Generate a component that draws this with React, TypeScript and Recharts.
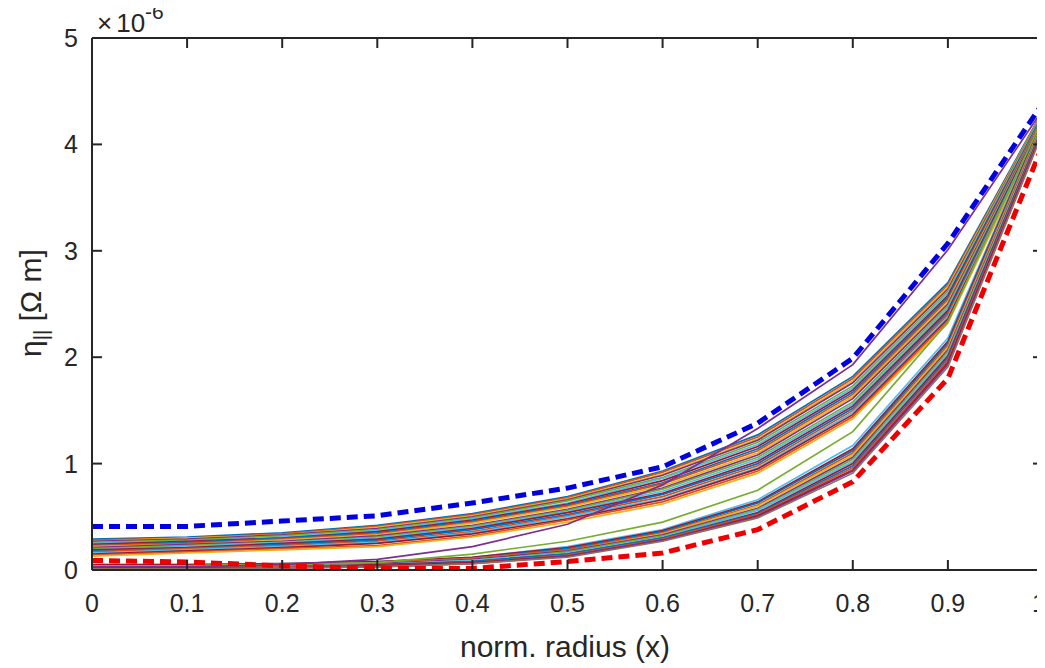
import React from "react";
import { LineChart, Line, XAxis, YAxis } from "recharts";

// normalized radius
const xs = [0, 0.1, 0.2, 0.3, 0.4, 0.5, 0.6, 0.7, 0.8, 0.9, 1.0];
const xTicks = [0, 0.1, 0.2, 0.3, 0.4, 0.5, 0.6, 0.7, 0.8, 0.9, 1];
const yTicks = [0, 1, 2, 3, 4, 5];

// values in units of 1e-6 Ohm m
// upper bundle of profiles
const upper = [
  [0.29, 0.31, 0.35, 0.42, 0.53, 0.69, 0.93, 1.27, 1.82, 2.70, 4.32],
  [0.28, 0.30, 0.34, 0.41, 0.52, 0.68, 0.92, 1.25, 1.80, 2.68, 4.31],
  [0.27, 0.30, 0.33, 0.40, 0.51, 0.67, 0.90, 1.23, 1.78, 2.66, 4.31],
  [0.27, 0.29, 0.33, 0.39, 0.50, 0.66, 0.89, 1.22, 1.76, 2.64, 4.30],
  [0.26, 0.28, 0.32, 0.38, 0.49, 0.65, 0.87, 1.20, 1.73, 2.62, 4.30],
  [0.25, 0.27, 0.31, 0.37, 0.48, 0.63, 0.86, 1.18, 1.71, 2.60, 4.29],
  [0.24, 0.27, 0.30, 0.36, 0.47, 0.62, 0.84, 1.16, 1.69, 2.58, 4.28],
  [0.23, 0.26, 0.30, 0.35, 0.46, 0.61, 0.82, 1.14, 1.67, 2.56, 4.28],
  [0.23, 0.25, 0.29, 0.34, 0.45, 0.60, 0.81, 1.12, 1.65, 2.54, 4.27],
  [0.22, 0.24, 0.28, 0.33, 0.44, 0.59, 0.79, 1.10, 1.63, 2.52, 4.26],
  [0.21, 0.24, 0.27, 0.32, 0.42, 0.57, 0.77, 1.08, 1.61, 2.50, 4.26],
  [0.20, 0.23, 0.26, 0.31, 0.41, 0.56, 0.76, 1.06, 1.58, 2.48, 4.25],
  [0.19, 0.22, 0.26, 0.30, 0.40, 0.55, 0.74, 1.04, 1.56, 2.46, 4.24],
  [0.19, 0.21, 0.25, 0.29, 0.39, 0.54, 0.72, 1.02, 1.54, 2.44, 4.24],
  [0.18, 0.20, 0.24, 0.28, 0.38, 0.52, 0.71, 1.00, 1.52, 2.42, 4.23],
  [0.17, 0.20, 0.23, 0.27, 0.36, 0.51, 0.69, 0.98, 1.50, 2.40, 4.22],
  [0.16, 0.19, 0.22, 0.26, 0.35, 0.50, 0.67, 0.96, 1.48, 2.38, 4.22],
  [0.15, 0.18, 0.21, 0.25, 0.34, 0.48, 0.66, 0.95, 1.46, 2.36, 4.21],
  [0.14, 0.17, 0.20, 0.23, 0.32, 0.47, 0.64, 0.93, 1.44, 2.34, 4.20],
  [0.13, 0.16, 0.19, 0.22, 0.31, 0.45, 0.62, 0.91, 1.42, 2.32, 4.20],
];

// lower bundle of profiles
const lower = [
  [0.05, 0.05, 0.06, 0.08, 0.12, 0.22, 0.38, 0.66, 1.17, 2.18, 4.25],
  [0.05, 0.05, 0.06, 0.08, 0.12, 0.21, 0.37, 0.64, 1.14, 2.15, 4.24],
  [0.04, 0.04, 0.05, 0.07, 0.11, 0.20, 0.36, 0.63, 1.12, 2.13, 4.23],
  [0.04, 0.04, 0.05, 0.07, 0.11, 0.19, 0.35, 0.61, 1.10, 2.11, 4.22],
  [0.04, 0.04, 0.05, 0.06, 0.10, 0.18, 0.34, 0.60, 1.08, 2.09, 4.21],
  [0.03, 0.03, 0.04, 0.06, 0.10, 0.18, 0.33, 0.58, 1.06, 2.07, 4.20],
  [0.03, 0.03, 0.04, 0.05, 0.09, 0.17, 0.32, 0.57, 1.04, 2.05, 4.19],
  [0.03, 0.03, 0.04, 0.05, 0.09, 0.16, 0.31, 0.56, 1.02, 2.03, 4.18],
  [0.02, 0.02, 0.03, 0.05, 0.08, 0.15, 0.30, 0.54, 1.00, 2.01, 4.17],
  [0.02, 0.02, 0.03, 0.04, 0.08, 0.15, 0.30, 0.53, 0.98, 1.99, 4.16],
  [0.02, 0.02, 0.03, 0.04, 0.07, 0.14, 0.29, 0.52, 0.96, 1.97, 4.15],
  [0.02, 0.02, 0.02, 0.04, 0.07, 0.13, 0.28, 0.51, 0.94, 1.95, 4.14],
  [0.01, 0.01, 0.02, 0.03, 0.06, 0.13, 0.28, 0.50, 0.93, 1.93, 4.13],
  [0.01, 0.01, 0.02, 0.03, 0.06, 0.12, 0.27, 0.49, 0.91, 1.91, 4.12],
];

// transitional profiles
const crossPurple = [0.03, 0.03, 0.05, 0.10, 0.22, 0.43, 0.80, 1.33, 1.93, 3.01, 4.33];
const crossGreen = [0.04, 0.04, 0.05, 0.07, 0.15, 0.27, 0.45, 0.75, 1.30, 2.33, 4.25];

// bounds
const upperBound = [0.41, 0.41, 0.46, 0.51, 0.63, 0.77, 0.97, 1.38, 1.99, 3.07, 4.39];
const lowerBound = [0.09, 0.075, 0.04, 0.015, 0.015, 0.08, 0.16, 0.38, 0.83, 1.80, 4.0];

// styles
const upperColors = [
  "#0072BD", "#D95319", "#EDB120", "#7E2F8E", "#77AC30", "#4DBEEE", "#A2142F",
  "#0072BD", "#D95319", "#EDB120", "#7E2F8E", "#77AC30", "#4DBEEE", "#A2142F",
  "#0072BD", "#D95319", "#4DBEEE", "#A2142F", "#D95319", "#EDB120",
];
const lowerColors = [
  "#4DBEEE", "#A2142F", "#0072BD", "#D95319", "#EDB120", "#7E2F8E", "#77AC30",
  "#4DBEEE", "#A2142F", "#0072BD", "#D95319", "#A2142F", "#7E2F8E", "#8C7060",
];

const AX = "#262626";
const FONT = "'Liberation Sans', Arial, Helvetica, sans-serif";
const TICK_LEN = 10;

// chart geometry
const W = 1037;
const H = 660;
const M = { top: 30, right: 2, left: 0, bottom: 0 };
const Y_AXIS_W = 84;
const X_AXIS_H = 98;
const PL = M.left + Y_AXIS_W;
const PR = W - M.right;
const PT = M.top;
const PB = H - M.bottom - X_AXIS_H;
const X_DOMAIN = [0, 1];
const Y_DOMAIN = [0, 5];
const sx = (v: number) => PL + ((v - X_DOMAIN[0]) / (X_DOMAIN[1] - X_DOMAIN[0])) * (PR - PL);
const sy = (v: number) => PB - ((v - Y_DOMAIN[0]) / (Y_DOMAIN[1] - Y_DOMAIN[0])) * (PB - PT);

const data = xs.map((x, i) => {
  const row: Record<string, number> = { x };
  upper.forEach((s, k) => (row["u" + k] = s[i]));
  lower.forEach((s, k) => (row["l" + k] = s[i]));
  row.cp = crossPurple[i];
  row.cg = crossGreen[i];
  row.ub = upperBound[i];
  row.lb = lowerBound[i];
  return row;
});

const fmtX = (v: number) => (v === 0 ? "0" : v === 1 ? "1" : String(Math.round(v * 10) / 10));

const BottomTick = (props: any) => {
  const { x, y, payload } = props;
  const last = payload.value === 1;
  return (
    <g>
      <line x1={x} y1={y} x2={x} y2={y - TICK_LEN} stroke={AX} strokeWidth={2} />
      <text x={last ? x - 4 : x} y={y + 42} textAnchor="middle" fontSize={25} fill={AX} fontFamily={FONT}>
        {fmtX(payload.value)}
      </text>
    </g>
  );
};
const LeftTick = (props: any) => {
  const { x, y, payload } = props;
  return (
    <g>
      <line x1={x} y1={y} x2={x + TICK_LEN} y2={y} stroke={AX} strokeWidth={2} />
      <text x={x - 14} y={y + 9} textAnchor="end" fontSize={25} fill={AX} fontFamily={FONT}>
        {String(payload.value)}
      </text>
    </g>
  );
};

function Frame() {
  const xt = xTicks.map((t) => sx(t));
  const yt = yTicks.map((t) => sy(t));
  return (
    <g>
      <line x1={PL} y1={PT} x2={PR} y2={PT} stroke={AX} strokeWidth={2} />
      <line x1={PR} y1={PT} x2={PR} y2={PB} stroke={AX} strokeWidth={2} />
      {xt.map((px, i) => (
        <line key={"tt" + i} x1={px} y1={PT} x2={px} y2={PT + TICK_LEN} stroke={AX} strokeWidth={2} />
      ))}
      {yt.map((py, i) => (
        <line key={"rt" + i} x1={PR} y1={py} x2={PR - TICK_LEN} y2={py} stroke={AX} strokeWidth={2} />
      ))}
    </g>
  );
}

export default function App() {
  return (
    <div style={{ width: W, height: H, position: "relative" }}>
      <LineChart width={W} height={H} data={data} margin={M}>
        <XAxis
          dataKey="x"
          type="number"
          domain={X_DOMAIN}
          ticks={xTicks}
          orientation="bottom"
          height={X_AXIS_H}
          tickSize={0}
          tickMargin={0}
          tickLine={false}
          axisLine={{ stroke: AX, strokeWidth: 2 }}
          tick={<BottomTick />}
          interval={0}
        />
        <YAxis
          type="number"
          domain={Y_DOMAIN}
          ticks={yTicks}
          orientation="left"
          width={Y_AXIS_W}
          tickSize={0}
          tickMargin={0}
          tickLine={false}
          axisLine={{ stroke: AX, strokeWidth: 2 }}
          tick={<LeftTick />}
          interval={0}
        />
        {upper.map((_, k) => (
          <Line
            key={"u" + k}
            dataKey={"u" + k}
            stroke={upperColors[k]}
            strokeWidth={1.7}
            dot={false}
            isAnimationActive={false}
            type="linear"
          />
        ))}
        {lower.map((_, k) => (
          <Line
            key={"l" + k}
            dataKey={"l" + k}
            stroke={lowerColors[k]}
            strokeWidth={1.7}
            dot={false}
            isAnimationActive={false}
            type="linear"
          />
        ))}
        <Line dataKey="cg" stroke="#77AC30" strokeWidth={1.7} dot={false} isAnimationActive={false} type="linear" />
        <Line dataKey="cp" stroke="#7E2F8E" strokeWidth={1.7} dot={false} isAnimationActive={false} type="linear" />
        <Line dataKey="ub" stroke="#0000E0" strokeWidth={5} strokeDasharray="11 6" dot={false} isAnimationActive={false} type="linear" />
        <Line dataKey="lb" stroke="#EE0000" strokeWidth={5} strokeDasharray="11 6" dot={false} isAnimationActive={false} type="linear" />
      </LineChart>
      <svg
        width={W}
        height={H}
        viewBox={`0 0 ${W} ${H}`}
        style={{ position: "absolute", left: 0, top: 0, pointerEvents: "none", overflow: "visible", zIndex: 5 }}
      >
        <Frame />
        <text x={89} y={24} fontSize={26} fill={AX} fontFamily={FONT}>
          ×<tspan dx={4}>10</tspan>
          <tspan fontSize={21} dy={-13}>-6</tspan>
        </text>
        <text x={557} y={649} textAnchor="middle" fontSize={30} fill={AX} fontFamily={FONT}>
          norm. radius (x)
        </text>
        <text
          transform="translate(33,295) rotate(-90)"
          textAnchor="middle"
          fontSize={30}
          fill={AX}
          fontFamily={FONT}
        >
          η<tspan fontSize={20} dy={7}>||</tspan>
          <tspan dy={-7}> [Ω m]</tspan>
        </text>
      </svg>
    </div>
  );
}
